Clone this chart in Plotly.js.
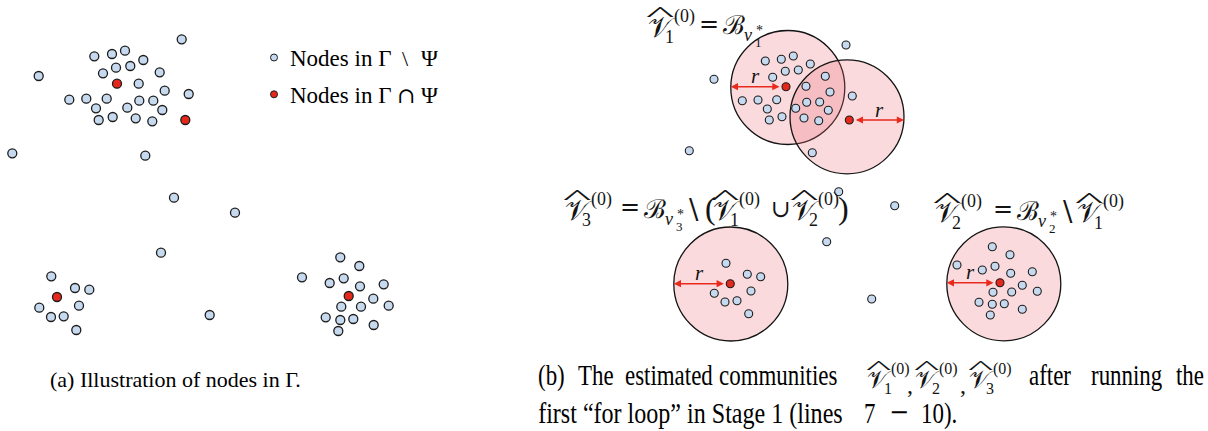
<!DOCTYPE html>
<html><head><meta charset="utf-8">
<script src="https://cdn.plot.ly/plotly-3.0.1.min.js"></script>
<style>html,body{margin:0;padding:0;background:#fff}#chart{width:1208px;height:431px}</style>
</head><body><div id="chart"></div>
<script>
// ---------- Panel (a): nodes in Gamma ----------
const aBlueX = [181.7,94.3,112,125,143.3,38.7,116,130.3,103,159.7,138.7,164.7,188.7,69.3,86.3,106.7,96,127.3,139.3,153.3,162.3,98.7,112.7,135.7,152.3,12.3,145.3,
  174,235,161,209.7,
  51.3,75,89.3,39.3,79,51,63.7,76.3,
  340.3,359.3,302,329.7,343.7,360,383.7,373.3,341.3,361,388.7,325.7,340.3,353.3,373.7,338.3];
const aBlueY = [39.3,56.3,54,50.7,60,76,67.7,66,73.3,72.3,83.7,90.7,94,99.7,98.7,98.7,108.3,107.7,100.7,100.7,110,120,117,118.3,121.3,153.3,155.7,
  197.7,212.7,252.7,315,
  276.3,288,289.7,307.7,305.7,317,316.3,330,
  257.3,266,277.3,283,278.3,286.3,284.3,298.7,306.7,306.7,305.7,317.3,320,319,325,331];
const aRedX = [117,185.3,57,348.7];
const aRedY = [83.7,120,297,296];

// legend
const legendLabels = ["Nodes in Γ", "Nodes in Γ"];
const legendOps = ["\\", "∩"];
const legendSet = ["Ψ", "Ψ"];
const legendX = [274,274];
const legendY = [57.5,94.3];
const legendColors = ["#c6d9ee","#e5281c"];

// ---------- Panel (b): estimated communities ----------
const bBlueX = [846,714,689.3,812.3,765.3,781.3,793.3,810.3,772.7,785.3,798.3,825.3,806,830,742.3,758,776.7,767.3,769.3,782,795.7,806.7,819.7,828.3,804,818.7,852.3,
  838.7,826.7,894.7,871.7,
  726,747.3,760.7,751,714.3,725,737,748.7,
  992.3,1010,957,982.3,995,1010.7,1032.3,1022.3,1037.3,993,1011.7,979,992.3,1004.3,1022.3,990.3];
const bBlueY = [45,79.3,150.7,152.7,61,59.3,56,64,77.3,71.3,70,76.3,86.3,92,100.7,100,99.7,109,120,116.7,108.3,102.3,102,110.3,118,120.7,96,
  191.7,241.7,205.7,299,
  263.3,274.3,276.7,291,293.3,302,300.7,313.7,
  246.7,254.7,265,270,266.3,273.3,271.7,285.3,291.3,292.3,292,302.3,304.3,303.7,309.3,315];
const bRedX = [786,849.3,730.3,1000];
const bRedY = [86.7,120,283.7,282.8];
const ballCx = [787.8,847,730.8,1003.8];
const ballCy = [87.5,116.8,284,283.8];
const ballR = 57;
const arrowDir = [-1,1,-1,-1];
const radiusLabel = "r";

// captions
const capA = "(a) Illustration of nodes in Γ.";
const capB1Words = ["(b)","The","estimated","communities","after","running","the"];
const capB1WordX = [537,577,624,718,1028,1090,1175];
const capB2Text = "first “for loop” in Stage 1 (lines";
const capB2Math = ["7","10)."];
const capB2MathX = [863,920];

// ---------- drawing ----------
const capFont = '"Liberation Serif","Times New Roman",serif';
const mathFont = '"DejaVu Serif",serif';
const scriptFont = '"DejaVu Sans","DejaVu Serif","Noto Sans",serif';
const ink = '#141414';
const ann = [];
const squeeze = [];
function txt(x,y,t,size,o){o=o||{};return {x:x,y:y,xref:'x',yref:'y',text:t,showarrow:false,
  xanchor:o.xa||'center',yanchor:'middle',borderpad:0,
  font:{family:o.f||capFont,size:size,color:o.c||ink}};}
function sq(a,kx){ann.push(a);squeeze.push({i:ann.length-1,kx:kx,anchor:a.xanchor});}
function hatV(x,y,S,sub,sup){
  ann.push(txt(x,y,'𝒱',S,{f:scriptFont}));
  const hs = 0.72*S;
  sq(txt(x,y-0.56*S+0.15*hs,'^',hs,{f:capFont}),3.0);
  ann.push(txt(x+0.32*S,y+0.36*S,sub,0.64*S));
  ann.push(txt(x+0.43*S,y-0.39*S,sup,0.64*S,{xa:'left'}));
}
function ballB(x,y,sub){
  ann.push(txt(x,y,'ℬ',26,{f:mathFont}));
  ann.push(txt(x+14,y+10,'<i>v</i>',18));
  ann.push(txt(x+25,y+5,'*',14));
  ann.push(txt(x+24,y+17,sub,13));
}

// legend texts
legendLabels.forEach((l,i)=>{
  ann.push(txt(289,legendY[i]+0.8,l,23,{xa:'left',c:'#000'}));
  ann.push(txt(405.5,legendY[i]+0.8,legendOps[i],22,{f:i===0?capFont:mathFont,c:'#000'}));
  ann.push(txt(429,legendY[i]+0.8,legendSet[i],23,{c:'#000'}));
});

// math labels in panel (b)
hatV(661,27,28,'1','(0)');
ann.push(txt(709,24,'=',24,{f:mathFont}));
ballB(734,25,'1');

hatV(578,210,28,'3','(0)');
ann.push(txt(630,207,'=',24,{f:mathFont}));
ballB(655,209,'3');
ann.push(txt(694,209.5,'\\',28,{f:mathFont}));
ann.push(txt(710.5,208,'(',32));
hatV(726,210,28,'1','(0)');
ann.push(txt(781,209,'∪',24,{f:mathFont}));
hatV(805,210,28,'2','(0)');
ann.push(txt(843,208,')',32));

hatV(948,212.5,28,'2','(0)');
ann.push(txt(1003,209,'=',24,{f:mathFont}));
ballB(1028,211,'2');
ann.push(txt(1068,211,'\\',28,{f:mathFont}));
hatV(1090,212.5,28,'1','(0)');

// radius arrows and labels
ballCx.forEach((cx,i)=>{
  const d = arrowDir[i];
  const edge = cx + d*ballR, near = bRedX[i] + d*5, yy = bRedY[i];
  ann.push({x:edge,y:yy,ax:near,ay:yy,xref:'x',yref:'y',axref:'x',ayref:'y',text:'',showarrow:true,
    arrowhead:2,startarrowhead:2,arrowside:'end+start',arrowsize:0.9,startarrowsize:0.9,
    arrowwidth:1.6,arrowcolor:'#e8291c',standoff:0,startstandoff:0});
  ann.push(txt((edge+near)/2,yy-10.5,'<i>'+radiusLabel+'</i>',21));
});

// captions
ann.push(txt(49,379,capA,22,{xa:'left',c:'#000'}));
const KB = 0.79;
capB1Words.forEach((w,i)=>sq(txt(capB1WordX[i],375,w,29,{xa:'left',c:'#000'}),KB));
hatV(879.5,379,25,'1','(0)');
ann.push(txt(910,385,',',24));
hatV(927.5,379,25,'2','(0)');
ann.push(txt(963,385,',',24));
hatV(981.5,379,25,'3','(0)');
sq(txt(537,413,capB2Text,29,{xa:'left',c:'#000'}),0.83);
capB2Math.forEach((w,i)=>sq(txt(capB2MathX[i],413,w,29,{xa:'left',c:'#000'}),KB));
ann.push(txt(899,412,'−',24,{f:mathFont,c:'#000'}));

const shapes = ballCx.map((cx,i)=>({type:'circle',xref:'x',yref:'y',
  x0:cx-ballR,x1:cx+ballR,y0:ballCy[i]-ballR,y1:ballCy[i]+ballR,
  fillcolor:'rgba(236,112,118,0.26)',line:{color:'#141414',width:1.3},layer:'below'}));

const blue = '#c6d9ee', red = '#e5281c', edgeC = '#1c1c1c';
const traces = [
  {x:aBlueX,y:aBlueY,type:'scatter',mode:'markers',marker:{size:9,color:blue,line:{color:edgeC,width:1.3}},hoverinfo:'skip'},
  {x:aRedX,y:aRedY,type:'scatter',mode:'markers',marker:{size:9,color:red,line:{color:edgeC,width:1.3}},hoverinfo:'skip'},
  {x:legendX,y:legendY,type:'scatter',mode:'markers',marker:{size:7,color:legendColors,line:{color:edgeC,width:1}},hoverinfo:'skip'},
  {x:bBlueX,y:bBlueY,type:'scatter',mode:'markers',marker:{size:8,color:blue,line:{color:edgeC,width:1.1}},hoverinfo:'skip'},
  {x:bRedX,y:bRedY,type:'scatter',mode:'markers',marker:{size:8,color:red,line:{color:edgeC,width:1.1}},hoverinfo:'skip'}
];

const layout = {width:1208,height:431,margin:{l:0,r:0,t:0,b:0,pad:0},
  paper_bgcolor:'#ffffff',plot_bgcolor:'#ffffff',showlegend:false,
  xaxis:{range:[0,1208],visible:false,fixedrange:true},
  yaxis:{range:[431,0],visible:false,fixedrange:true},
  shapes:shapes,annotations:ann};

function applySqueeze(gd){
  squeeze.forEach(s=>{
    const g = gd.querySelector('.annotation[data-index="'+s.i+'"]');
    if(!g) return;
    const t = g.querySelector('.annotation-text');
    if(!t || t.getAttribute('data-sq')) return;
    const bb = t.getBBox();
    const px = s.anchor==='left' ? bb.x : bb.x + bb.width/2;
    const prev = t.getAttribute('transform')||'';
    t.setAttribute('transform', prev+' translate('+px+',0) scale('+s.kx+',1) translate('+(-px)+',0)');
    t.setAttribute('data-sq','1');
  });
}
Plotly.newPlot('chart',traces,layout,{displayModeBar:false,staticPlot:true}).then(applySqueeze);
</script></body></html>
